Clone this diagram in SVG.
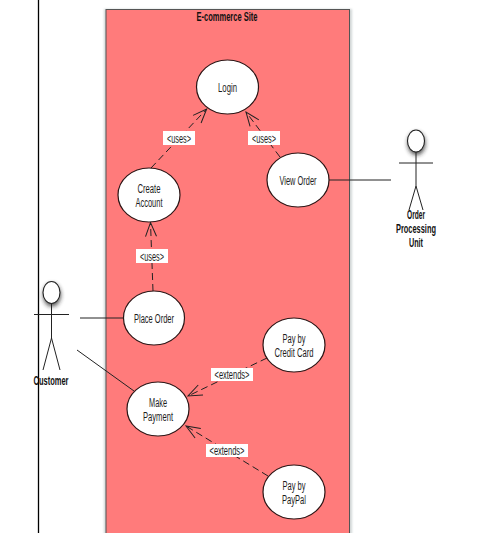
<svg xmlns="http://www.w3.org/2000/svg" width="493" height="533" viewBox="0 0 493 533">
<style>
text{font-family:"Liberation Sans",Arial,sans-serif;font-size:12.5px;fill:#1c1c1c;text-anchor:middle;stroke:none}
.b{font-weight:bold;fill:#111}
.uc{fill:#fff;stroke:#2a1616;stroke-width:1.2}
.s{fill:none;stroke:#222;stroke-width:1}
.d{fill:none;stroke:#222;stroke-width:1;stroke-dasharray:7 4;marker-end:url(#open)}
.l{fill:#fff;stroke:none}
.h{fill:#fff;stroke:#222;stroke-width:1.1}
</style>
<defs>
<marker id="open" markerUnits="userSpaceOnUse" markerWidth="16" markerHeight="14" refX="15" refY="7" orient="auto">
<path d="M1 1.500L15 7L1 12.500" fill="none" stroke="#222" stroke-width="1"/>
</marker>
<filter id="blur" x="-60%" y="-60%" width="220%" height="220%"><feGaussianBlur stdDeviation="2.2"/></filter>
<filter id="edge" x="-5%" y="-5%" width="110%" height="110%"><feGaussianBlur stdDeviation="1"/></filter>
</defs>
<rect width="493" height="533" fill="#fff"/>
<line x1="38.500" y1="0" x2="38.500" y2="533" stroke="#000" stroke-width="1.300"/>
<g id="boundary">
<rect x="104" y="9" width="248" height="540" fill="#9aa5a5" opacity=".45" filter="url(#edge)"/>
<rect x="106" y="9.500" width="243.500" height="540" fill="#ff7b7b" stroke="#555" stroke-width="1"/>
<text class="b" x="227" y="21" textLength="61" lengthAdjust="spacingAndGlyphs">E-commerce Site</text>
</g>
<g id="connectors">
<path class="d" d="M151 168L206.700 109"/>
<path class="d" d="M280 157L246 112"/>
<path class="d" d="M153 291L150.500 222.500"/>
<path class="d" d="M267 358L188 396"/>
<path class="d" d="M268 476L186 426"/>
<path class="s" d="M80 318H123"/>
<path class="s" d="M77 350L134 391"/>
<path class="s" d="M329 180H391"/>
</g>
<g id="label-uses-1"><rect class="l" x="163" y="131" width="32" height="14"/><text x="179" y="142.500" textLength="24" lengthAdjust="spacingAndGlyphs">&lt;uses&gt;</text></g>
<g id="label-uses-2"><rect class="l" x="248" y="131" width="32" height="14"/><text x="264" y="142.500" textLength="24" lengthAdjust="spacingAndGlyphs">&lt;uses&gt;</text></g>
<g id="label-uses-3"><rect class="l" x="136" y="249" width="32" height="14"/><text x="152" y="260.500" textLength="24" lengthAdjust="spacingAndGlyphs">&lt;uses&gt;</text></g>
<g id="label-extends-1"><rect class="l" x="211" y="368" width="42" height="13"/><text x="232" y="379" textLength="35" lengthAdjust="spacingAndGlyphs">&lt;extends&gt;</text></g>
<g id="label-extends-2"><rect class="l" x="206" y="444" width="42" height="13"/><text x="227" y="455" textLength="35" lengthAdjust="spacingAndGlyphs">&lt;extends&gt;</text></g>
<g id="login"><ellipse class="uc" cx="227.500" cy="87" rx="31" ry="27"/><text x="227.500" y="91.500" textLength="19" lengthAdjust="spacingAndGlyphs">Login</text></g>
<g id="create-account"><ellipse class="uc" cx="149" cy="195" rx="31" ry="27"/><text x="149" y="192.500" textLength="23" lengthAdjust="spacingAndGlyphs">Create</text><text x="149" y="206.500" textLength="27" lengthAdjust="spacingAndGlyphs">Account</text></g>
<g id="view-order"><ellipse class="uc" cx="298" cy="180" rx="31" ry="27"/><text x="298" y="184.500" textLength="37" lengthAdjust="spacingAndGlyphs">View Order</text></g>
<g id="place-order"><ellipse class="uc" cx="154" cy="318" rx="30.500" ry="27"/><text x="154" y="322.500" textLength="40" lengthAdjust="spacingAndGlyphs">Place Order</text></g>
<g id="pay-credit"><ellipse class="uc" cx="294" cy="345" rx="31" ry="27"/><text x="294" y="342.500" textLength="23" lengthAdjust="spacingAndGlyphs">Pay by</text><text x="294" y="356.500" textLength="39" lengthAdjust="spacingAndGlyphs">Credit Card</text></g>
<g id="make-payment"><ellipse class="uc" cx="158" cy="409" rx="31" ry="27"/><text x="158" y="407" textLength="18" lengthAdjust="spacingAndGlyphs">Make</text><text x="158" y="420.500" textLength="30" lengthAdjust="spacingAndGlyphs">Payment</text></g>
<g id="pay-paypal"><ellipse class="uc" cx="294" cy="492" rx="31" ry="27"/><text x="294" y="489.500" textLength="23" lengthAdjust="spacingAndGlyphs">Pay by</text><text x="294" y="503.500" textLength="24" lengthAdjust="spacingAndGlyphs">PayPal</text></g>
<g id="customer">
<ellipse cx="52" cy="295" rx="9" ry="11.500" fill="#222" opacity=".75" filter="url(#blur)"/>
<ellipse class="h" cx="51.500" cy="292.500" rx="8.500" ry="11"/>
<path class="s" d="M34 314.500H69M51.500 304V338L43 370M51.500 338L60 370"/>
<text class="b" x="51" y="385" textLength="35" lengthAdjust="spacingAndGlyphs">Customer</text>
</g>
<g id="order-processing-unit">
<ellipse cx="416.500" cy="143.500" rx="9" ry="11.500" fill="#222" opacity=".75" filter="url(#blur)"/>
<ellipse class="h" cx="416" cy="141" rx="8.500" ry="11"/>
<path class="s" d="M399 163H433M416 152V186L409 210M416 186L423 210"/>
<text class="b" x="416" y="218.500" textLength="18" lengthAdjust="spacingAndGlyphs">Order</text>
<text class="b" x="416" y="233" textLength="40" lengthAdjust="spacingAndGlyphs">Processing</text>
<text class="b" x="416" y="247" textLength="14" lengthAdjust="spacingAndGlyphs">Unit</text>
</g>
</svg>
